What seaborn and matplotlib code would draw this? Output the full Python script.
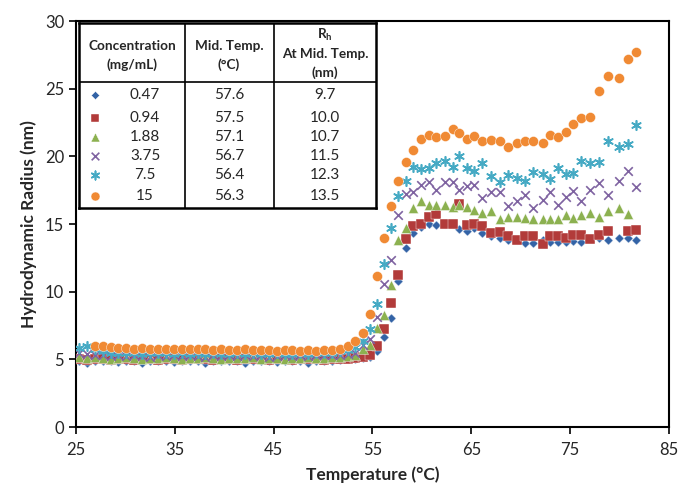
import matplotlib
matplotlib.use("Agg")
import matplotlib.pyplot as plt
import numpy as np
import pandas as pd
import seaborn as sns


# measurement temperatures (deg C), shared by every concentration
TEMPS = [25.3, 26.1, 26.9, 27.7, 28.5, 29.3, 30.1, 30.9, 31.7, 32.5, 33.3, 34.1,
         34.9, 35.7, 36.5, 37.3, 38.1, 38.9, 39.7, 40.5, 41.3, 42.1, 42.9, 43.7,
         44.5, 45.3, 46.1, 46.9, 47.7, 48.5, 49.3, 50.1, 50.9, 51.7, 52.5,
         53.2, 54.0, 54.7, 55.5, 56.2, 56.9, 57.6, 58.4, 59.1, 59.9, 60.7, 61.4,
         62.3, 63.1, 63.8, 64.6, 65.3, 66.1, 67.0, 67.9, 68.7, 69.6, 70.4, 71.2,
         72.3, 73.0, 73.8, 74.6, 75.3, 76.1, 77.0, 77.9, 78.8, 79.9, 80.9, 81.7]

nan = np.nan

R_047 = [4.9, 4.75, 4.9, 4.85, 4.9, 4.8, 4.9, 4.85, 4.7, 4.9, 4.85, 4.9,
         4.8, 4.9, 4.85, 4.9, 4.7, 4.9, 4.85, 4.9, 4.85, 4.75, 4.9, 4.85,
         4.9, 4.8, 4.9, 4.85, 4.9, 4.75, 4.9, 4.85, 4.9, 4.95, 5.0,
         5.05, 5.1, 5.2, 5.6, 6.65, 8.05, 10.8, 13.2, 14.3, 14.75, 15.0, 14.95,
         15.0, 15.0, 14.65, 14.5, 14.7, 14.3, 14.15, 14.0, 13.85, 13.85, 13.6, 13.6,
         13.85, 13.65, 13.65, 13.65, 13.75, 13.65, 14.0, 14.0, 13.85, 13.95, 14.0, 13.85]

R_094 = [5.0, 4.95, 5.0, 5.0, 4.95, 5.0, 5.0, 4.95, 5.0, 5.0, 4.95, 5.0,
         5.0, 4.95, 5.0, 5.0, 5.0, 4.95, 5.0, 5.0, 4.95, 5.0, 5.0, 5.0,
         4.95, 5.0, 5.0, 4.95, 5.0, 5.0, 5.0, 4.95, 5.0, 5.05, 5.05,
         5.1, 5.2, 5.35, 5.97, 7.27, 9.17, 11.25, 13.9, 14.88, 15.0, 15.5, 15.75,
         15.0, 15.0, 16.5, 14.9, 15.0, 14.85, 14.3, 14.4, 14.1, 13.85, 14.1, 14.1,
         13.55, 14.1, 14.1, 14.0, 14.2, 14.2, 13.9, 14.2, 14.45, nan, 14.45, 14.55]

R_188 = [5.2, 5.1, 5.15, 5.1, 5.05, 5.1, 5.15, 5.1, 5.05, 5.1, 5.1, 5.15,
         5.1, 5.05, 5.1, 5.1, 5.15, 5.1, 5.05, 5.1, 5.1, 5.1, 5.15, 5.05,
         5.1, 5.1, 5.05, 5.1, 5.1, 5.15, 5.1, 5.1, 5.15, 5.2, 5.25,
         5.3, 5.73, 6.05, 7.28, 8.31, 10.47, 13.83, 14.69, 16.19, 16.73, 16.43, 16.43,
         16.41, 16.28, 16.43, 16.28, 16.0, 15.8, 15.95, 15.37, 15.55, 15.55, 15.45, 15.37,
         15.37, 15.37, 15.37, 15.67, 15.45, 15.67, 15.82, 15.55, 15.95, 16.16, 15.75, nan]

R_375 = [5.45, 5.4, 5.35, 5.3, 5.25, 5.3, 5.25, 5.3, 5.25, 5.2, 5.3, 5.25,
         5.3, 5.25, 5.3, 5.25, 5.2, 5.3, 5.25, 5.3, 5.25, 5.3, 5.25, 5.3,
         5.2, 5.25, 5.3, 5.25, 5.3, 5.25, 5.3, 5.3, 5.35, 5.35, 5.4,
         5.5, 6.05, 6.5, 8.13, 10.6, 12.35, 15.67, 17.22, 17.34, 17.88, 18.13, 17.51,
         18.08, 18.08, 17.51, 17.83, 17.9, 16.92, 17.34, 17.34, 16.31, 16.73, 17.14, 16.19,
         16.8, 17.34, 16.43, 16.97, 17.46, 16.73, 17.54, 18.03, 17.17, 18.2, 18.94, 17.76]

R_75 = [5.85, 6.0, 5.8, 5.6, 5.5, 5.45, 5.5, 5.45, 5.4, 5.45, 5.5, 5.45,
        5.4, 5.45, 5.4, 5.45, 5.4, 5.45, 5.4, 5.4, 5.45, 5.4, 5.45, 5.4,
        5.4, 5.45, 5.4, 5.4, 5.45, 5.4, 5.45, 5.5, 5.5, 5.6, 5.7,
        5.88, 6.34, 7.27, 9.1, 12.06, 14.69, 17.09, 18.15, 19.23, 19.06, 19.11, 19.48,
        19.62, 19.23, 20.04, 19.13, 18.94, 19.5, 18.57, 18.08, 18.64, 18.4, 18.2, 18.81,
        18.69, 18.32, 19.13, 18.69, 18.74, 19.62, 19.48, 19.55, 21.15, 20.7, 20.9, 22.3]

R_15 = [nan, nan, 5.95, 5.95, 5.9, 5.85, 5.85, 5.8, 5.85, 5.8, 5.8, 5.75,
        5.8, 5.75, 5.75, 5.8, 5.75, 5.7, 5.75, 5.7, 5.7, 5.75, 5.7, 5.7,
        5.7, 5.65, 5.7, 5.7, 5.65, 5.7, 5.65, 5.7, 5.68, 5.8, 6.0,
        6.37, 6.96, 8.33, 11.13, 13.95, 16.3, 18.2, 19.6, 20.5, 21.3, 21.6, 21.4,
        21.5, 22.0, 21.7, 21.3, 21.5, 21.1, 21.2, 21.1, 20.7, 21.0, 21.15, 21.15,
        21.0, 21.6, 21.4, 21.8, 22.4, 22.8, 22.9, 24.8, 25.9, 25.8, 27.2, 27.7]

CONCS = ["0.47", "0.94", "1.88", "3.75", "7.5", "15"]
MID_TEMPS = ["57.6", "57.5", "57.1", "56.7", "56.4", "56.3"]
RH_MID = ["9.7", "10.0", "10.7", "11.5", "12.3", "13.5"]

COLORS = ["#3363A6", "#B23B3A", "#8CB150", "#7F63A1", "#46AAC4", "#F08A34"]
MARKERS = ["D", "s", "^", "x", (6, 2, 0), "o"]
SIZES = [22, 46, 52, 38, 46, 52]
LINE_MARKERS = ("x", (6, 2, 0))


def main() -> None:
    sns.set_style("ticks")
    plt.rcParams["font.family"] = ["Lato", "DejaVu Sans"]

    series = [R_047, R_094, R_188, R_375, R_75, R_15]
    df = pd.concat(
        [pd.DataFrame({"temp": TEMPS, "radius": vals, "conc": c}) for c, vals in zip(CONCS, series)],
        ignore_index=True,
    )

    fig = plt.figure(figsize=(6.8, 4.9), dpi=100)
    ax = fig.add_axes([76 / 680, 1 - 427 / 490, 593 / 680, 406 / 490])

    for conc, color, marker, size in zip(CONCS, COLORS, MARKERS, SIZES):
        sub = df[df["conc"] == conc].dropna()
        if marker in LINE_MARKERS:
            kw = dict(linewidth=1.2)
        else:
            kw = dict(edgecolor="white", linewidth=0.3)
        sns.scatterplot(data=sub, x="temp", y="radius", color=color, marker=marker,
                        s=size, ax=ax, legend=False, zorder=3, **kw)

    ax.set_xlim(25, 85)
    ax.set_ylim(0, 30)
    ax.set_xticks(range(25, 86, 10))
    ax.set_yticks(range(0, 31, 5))
    ax.tick_params(direction="out", length=5, width=1.2, labelsize=12, color="black")
    ax.tick_params(axis="x", pad=6)
    for sp in ax.spines.values():
        sp.set_visible(True)
        sp.set_linewidth(1.5)
        sp.set_color("black")
    ax.set_xlabel("Temperature (°C)", fontsize=12.5, fontweight="bold", labelpad=6)
    ax.set_ylabel("Hydrodynamic Radius (nm)", fontsize=12.5, fontweight="bold", labelpad=6)

    # summary table in the top-left corner, drawn in its own pixel-based axes
    x0, x1, y0, y1 = 79, 376, 23, 208
    tax = fig.add_axes([x0 / 680, 1 - y1 / 490, (x1 - x0) / 680, (y1 - y0) / 490], zorder=5)
    tax.set_xlim(x0, x1)
    tax.set_ylim(y1, y0)
    tax.set_facecolor("white")
    tax.set_xticks([])
    tax.set_yticks([])
    for sp in tax.spines.values():
        sp.set_linewidth(1.8)
        sp.set_color("black")
    line_kw = dict(color="black", linewidth=1.2)
    tax.plot([185, 185], [y0, y1], **line_kw)
    tax.plot([274, 274], [y0, y1], **line_kw)
    tax.plot([x0, x1], [82, 82], **line_kw)

    head = dict(fontsize=9.8, fontweight="bold", ha="center", va="center")
    tax.text(132, 46, "Concentration", **head)
    tax.text(132, 65, "(mg/mL)", **head)
    tax.text(229, 46, "Mid. Temp.", **head)
    tax.text(229, 65, "(°C)", **head)
    tax.text(325, 35, r"R$_\mathregular{h}$", **head)
    tax.text(325, 54, "At Mid. Temp.", **head)
    tax.text(325, 73, "(nm)", **head)

    row_y = [95, 118, 137, 156, 175, 196]
    for yy, conc, mt, rh, color, marker, size in zip(row_y, CONCS, MID_TEMPS, RH_MID, COLORS, MARKERS, SIZES):
        if marker in LINE_MARKERS:
            kw = dict(linewidths=1.2)
        else:
            kw = dict(edgecolors="white", linewidths=0.3)
        tax.scatter([95], [yy], color=color, marker=marker, s=size * 0.8, clip_on=False, **kw)
        tax.text(145, yy, conc, fontsize=11, ha="center", va="center")
        tax.text(229, yy, mt, fontsize=11, ha="center", va="center")
        tax.text(325, yy, rh, fontsize=11, ha="center", va="center")

    fig.savefig("out.png", dpi=100)
    plt.close(fig)


if __name__ == "__main__":
    main()
